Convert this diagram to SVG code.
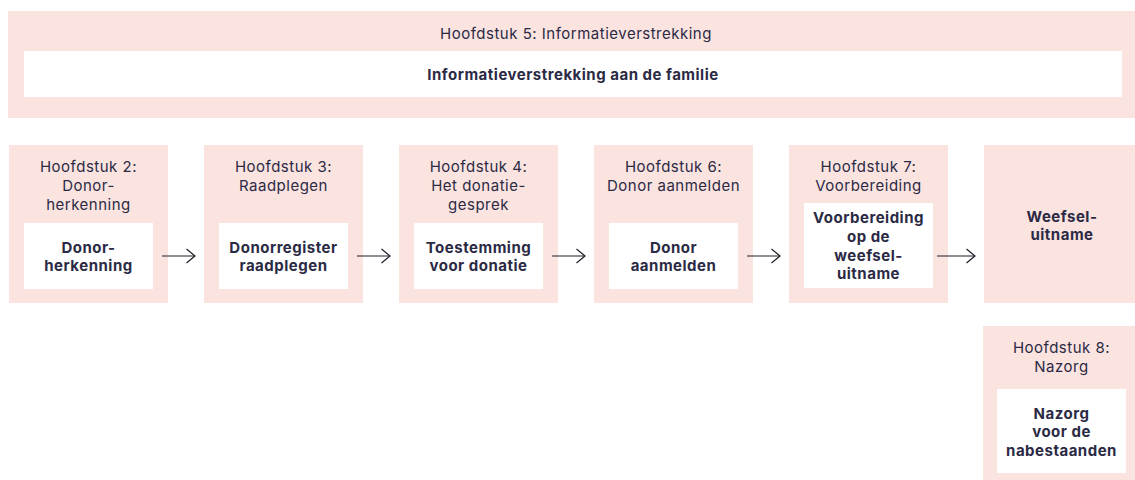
<svg xmlns="http://www.w3.org/2000/svg" width="1135" height="480" viewBox="0 0 1135 480">
<style>
.outer{fill:#fbe3df}
.inner{fill:#ffffff}
.h{font-family:Inter,"Liberation Sans",sans-serif;font-size:15px;letter-spacing:0.5px;fill:#2b2a45;text-anchor:middle}
.b{font-family:Inter,"Liberation Sans",sans-serif;font-size:15px;letter-spacing:0.5px;font-weight:700;fill:#2b2a45;text-anchor:middle}
.c{fill:none;stroke:#1e1e2a;stroke-width:1.2}
</style>
<defs>
<marker id="arr" viewBox="0 0 10 16" refX="9.5" refY="8" markerWidth="10" markerHeight="16" markerUnits="userSpaceOnUse" orient="auto">
<path d="M1,1 L9.5,8 L1,15" fill="none" stroke="#1e1e2a" stroke-width="1.2"/>
</marker>
</defs>
<rect width="1135" height="480" fill="#ffffff"/>
<g id="ch5">
<rect class="outer" x="8" y="11" width="1127" height="107"/>
<rect class="inner" x="24" y="51" width="1098" height="46"/>
<text class="h" x="576" y="39">Hoofdstuk 5: Informatieverstrekking</text>
<text class="b" x="573" y="80">Informatieverstrekking aan de familie</text>
</g>
<g id="ch2">
<rect class="outer" x="9" y="145" width="159" height="158"/>
<rect class="inner" x="24" y="223" width="129" height="66"/>
<text class="h" x="88.5" y="172">Hoofdstuk 2:</text>
<text class="h" x="88.5" y="191">Donor-</text>
<text class="h" x="88.5" y="210">herkenning</text>
<text class="b" x="88.5" y="253">Donor-</text>
<text class="b" x="88.5" y="271">herkenning</text>
</g>
<g id="ch3">
<rect class="outer" x="204" y="145" width="159" height="158"/>
<rect class="inner" x="219" y="223" width="129" height="66"/>
<text class="h" x="283.5" y="172">Hoofdstuk 3:</text>
<text class="h" x="283.5" y="191">Raadplegen</text>
<text class="b" x="283.5" y="253">Donorregister</text>
<text class="b" x="283.5" y="271">raadplegen</text>
</g>
<g id="ch4">
<rect class="outer" x="399" y="145" width="159" height="158"/>
<rect class="inner" x="414" y="223" width="129" height="66"/>
<text class="h" x="478.5" y="172">Hoofdstuk 4:</text>
<text class="h" x="478.5" y="191">Het donatie-</text>
<text class="h" x="478.5" y="210">gesprek</text>
<text class="b" x="478.5" y="253">Toestemming</text>
<text class="b" x="478.5" y="271">voor donatie</text>
</g>
<g id="ch6">
<rect class="outer" x="594" y="145" width="159" height="158"/>
<rect class="inner" x="609" y="223" width="129" height="66"/>
<text class="h" x="673.5" y="172">Hoofdstuk 6:</text>
<text class="h" x="673.5" y="191">Donor aanmelden</text>
<text class="b" x="673.5" y="253">Donor</text>
<text class="b" x="673.5" y="271">aanmelden</text>
</g>
<g id="ch7">
<rect class="outer" x="789" y="145" width="159" height="158"/>
<rect class="inner" x="804" y="203" width="129" height="85"/>
<text class="h" x="868.5" y="172">Hoofdstuk 7:</text>
<text class="h" x="868.5" y="191">Voorbereiding</text>
<text class="b" x="868.5" y="223">Voorbereiding</text>
<text class="b" x="868.5" y="242">op de</text>
<text class="b" x="868.5" y="261">weefsel-</text>
<text class="b" x="868.5" y="279">uitname</text>
</g>
<g id="weefsel">
<rect class="outer" x="984" y="145" width="159" height="158"/>
<text class="b" x="1062" y="222">Weefsel-</text>
<text class="b" x="1062" y="240">uitname</text>
</g>
<g id="ch8">
<rect class="outer" x="983" y="326" width="159" height="160"/>
<rect class="inner" x="997" y="389" width="129" height="84"/>
<text class="h" x="1061.5" y="353">Hoofdstuk 8:</text>
<text class="h" x="1061.5" y="372">Nazorg</text>
<text class="b" x="1061.5" y="419">Nazorg</text>
<text class="b" x="1061.5" y="437">voor de</text>
<text class="b" x="1061.5" y="456">nabestaanden</text>
</g>
<g id="connectors">
<line class="c" x1="162" y1="256" x2="195" y2="256" marker-end="url(#arr)"/>
<line class="c" x1="357" y1="256" x2="390" y2="256" marker-end="url(#arr)"/>
<line class="c" x1="552" y1="256" x2="585" y2="256" marker-end="url(#arr)"/>
<line class="c" x1="747" y1="256" x2="780" y2="256" marker-end="url(#arr)"/>
<line class="c" x1="937" y1="256" x2="975" y2="256" marker-end="url(#arr)"/>
</g>
</svg>
